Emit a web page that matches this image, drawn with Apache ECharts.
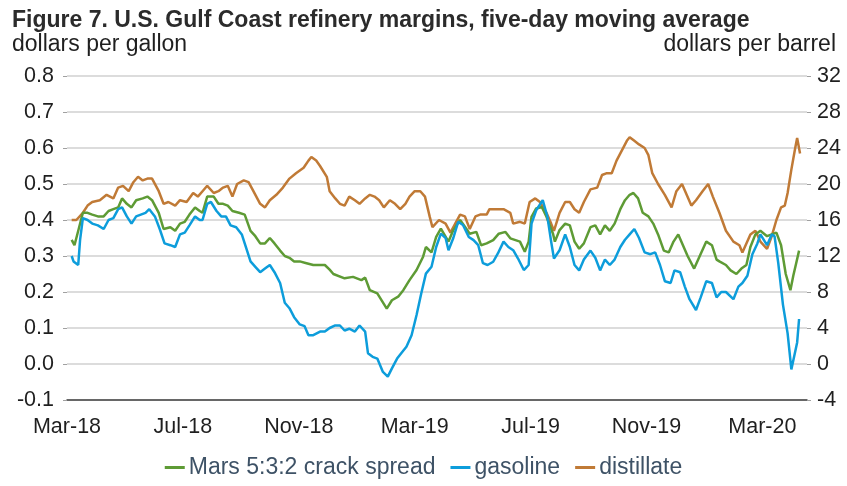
<!DOCTYPE html>
<html><head><meta charset="utf-8">
<script src="https://cdn.jsdelivr.net/npm/echarts@6/dist/echarts.min.js"></script>
<style>html,body{margin:0;padding:0;background:#fff}#c{width:847px;height:486px}</style>
</head><body><div id="c"></div>
<script>
const tickLabels = ['Mar-18','Jul-18','Nov-18','Mar-19','Jul-19','Nov-19','Mar-20'];
const seriesNames = ['Mars 5:3:2 crack spread','gasoline','distillate'];

const marsDates = ['2018-03-06','2018-03-09','2018-03-11','2018-03-14','2018-03-18','2018-03-23','2018-03-28','2018-04-03','2018-04-09','2018-04-14','2018-04-19','2018-04-24','2018-04-28','2018-05-03','2018-05-08','2018-05-13','2018-05-20','2018-05-25','2018-05-30','2018-06-06','2018-06-11','2018-06-18','2018-06-23','2018-06-28','2018-07-03','2018-07-08','2018-07-14','2018-07-19','2018-07-22','2018-07-27','2018-08-03','2018-08-08','2018-08-13','2018-08-18','2018-08-23','2018-08-30','2018-09-05','2018-09-11','2018-09-16','2018-09-21','2018-09-26','2018-10-01','2018-10-06','2018-10-12','2018-10-17','2018-10-22','2018-10-27','2018-11-02','2018-11-09','2018-11-16','2018-11-23','2018-11-28','2018-12-03','2018-12-07','2018-12-19','2018-12-28','2019-01-06','2019-01-10','2019-01-15','2019-01-23','2019-02-02','2019-02-07','2019-02-13','2019-02-18','2019-02-24','2019-03-03','2019-03-10','2019-03-13','2019-03-19','2019-03-24','2019-03-29','2019-04-06','2019-04-11','2019-04-18','2019-04-23','2019-04-28','2019-05-05','2019-05-10','2019-05-16','2019-05-23','2019-05-29','2019-06-05','2019-06-10','2019-06-20','2019-06-25','2019-06-29','2019-07-02','2019-07-07','2019-07-13','2019-07-18','2019-07-25','2019-07-27','2019-08-01','2019-08-07','2019-08-12','2019-08-17','2019-08-22','2019-08-27','2019-09-03','2019-09-08','2019-09-13','2019-09-18','2019-09-23','2019-09-28','2019-10-04','2019-10-09','2019-10-14','2019-10-18','2019-10-23','2019-10-28','2019-11-03','2019-11-08','2019-11-13','2019-11-19','2019-11-24','2019-11-29','2019-12-04','2019-12-09','2019-12-14','2019-12-21','2019-12-27','2020-01-03','2020-01-09','2020-01-14','2020-01-17','2020-01-24','2020-01-29','2020-02-04','2020-02-09','2020-02-14','2020-02-18','2020-02-23','2020-02-28','2020-03-06','2020-03-11','2020-03-16','2020-03-21','2020-03-26','2020-03-31','2020-04-03','2020-04-06','2020-04-09'];
const marsValues = [0.345,0.33,0.325,0.38,0.42,0.42,0.415,0.41,0.41,0.425,0.43,0.435,0.46,0.445,0.435,0.455,0.46,0.465,0.455,0.42,0.375,0.38,0.37,0.39,0.395,0.415,0.435,0.425,0.42,0.465,0.465,0.445,0.445,0.44,0.425,0.42,0.415,0.37,0.355,0.335,0.335,0.35,0.335,0.315,0.30,0.295,0.285,0.285,0.28,0.275,0.275,0.275,0.262,0.25,0.238,0.242,0.233,0.24,0.205,0.196,0.154,0.177,0.187,0.205,0.233,0.261,0.298,0.325,0.31,0.353,0.376,0.34,0.372,0.40,0.381,0.362,0.367,0.33,0.335,0.344,0.362,0.367,0.349,0.34,0.312,0.34,0.409,0.432,0.436,0.409,0.362,0.34,0.372,0.39,0.385,0.34,0.32,0.335,0.38,0.385,0.36,0.385,0.37,0.39,0.43,0.455,0.47,0.475,0.46,0.42,0.41,0.39,0.36,0.315,0.31,0.34,0.36,0.33,0.30,0.265,0.30,0.34,0.33,0.29,0.285,0.275,0.26,0.25,0.265,0.275,0.325,0.36,0.37,0.355,0.36,0.365,0.33,0.25,0.205,0.245,0.28,0.315];

const gasolineDates = ['2018-03-06','2018-03-08','2018-03-13','2018-03-15','2018-03-18','2018-03-23','2018-03-28','2018-04-03','2018-04-09','2018-04-14','2018-04-19','2018-04-24','2018-04-28','2018-05-03','2018-05-08','2018-05-13','2018-05-18','2018-05-23','2018-05-27','2018-06-02','2018-06-07','2018-06-12','2018-06-18','2018-06-23','2018-06-28','2018-07-03','2018-07-08','2018-07-14','2018-07-19','2018-07-22','2018-07-27','2018-07-31','2018-08-06','2018-08-11','2018-08-16','2018-08-21','2018-08-27','2018-09-02','2018-09-05','2018-09-11','2018-09-16','2018-09-21','2018-09-26','2018-10-01','2018-10-06','2018-10-12','2018-10-17','2018-10-22','2018-10-27','2018-11-02','2018-11-07','2018-11-11','2018-11-16','2018-11-23','2018-11-28','2018-12-03','2018-12-09','2018-12-14','2018-12-19','2018-12-24','2018-12-30','2019-01-04','2019-01-10','2019-01-13','2019-01-18','2019-01-23','2019-01-29','2019-02-03','2019-02-07','2019-02-12','2019-02-16','2019-02-21','2019-02-26','2019-03-03','2019-03-08','2019-03-13','2019-03-19','2019-03-24','2019-03-29','2019-04-03','2019-04-06','2019-04-11','2019-04-16','2019-04-21','2019-04-27','2019-05-02','2019-05-07','2019-05-12','2019-05-17','2019-05-23','2019-05-28','2019-06-03','2019-06-08','2019-06-13','2019-06-18','2019-06-24','2019-06-29','2019-07-02','2019-07-07','2019-07-14','2019-07-19','2019-07-23','2019-07-26','2019-08-01','2019-08-07','2019-08-12','2019-08-17','2019-08-22','2019-08-27','2019-09-03','2019-09-08','2019-09-13','2019-09-18','2019-09-23','2019-09-28','2019-10-04','2019-10-09','2019-10-14','2019-10-19','2019-10-24','2019-10-30','2019-11-05','2019-11-10','2019-11-15','2019-11-20','2019-11-26','2019-11-30','2019-12-06','2019-12-11','2019-12-16','2019-12-23','2019-12-28','2020-01-03','2020-01-09','2020-01-14','2020-01-19','2020-01-24','2020-02-01','2020-02-06','2020-02-10','2020-02-15','2020-02-20','2020-02-25','2020-02-28','2020-03-06','2020-03-11','2020-03-14','2020-03-18','2020-03-23','2020-03-28','2020-04-01','2020-04-03','2020-04-07','2020-04-09'];
const gasolineValues = [0.30,0.285,0.275,0.345,0.405,0.40,0.39,0.385,0.375,0.40,0.405,0.43,0.435,0.41,0.39,0.41,0.415,0.42,0.43,0.41,0.375,0.335,0.33,0.325,0.36,0.365,0.385,0.41,0.40,0.40,0.445,0.45,0.425,0.41,0.41,0.385,0.38,0.36,0.335,0.285,0.27,0.255,0.265,0.275,0.255,0.225,0.17,0.155,0.13,0.11,0.105,0.08,0.08,0.09,0.09,0.10,0.107,0.107,0.093,0.098,0.09,0.107,0.09,0.03,0.02,0.015,-0.022,-0.035,-0.012,0.015,0.03,0.048,0.08,0.136,0.196,0.251,0.27,0.325,0.362,0.35,0.316,0.35,0.395,0.386,0.353,0.344,0.33,0.28,0.275,0.284,0.307,0.34,0.325,0.316,0.293,0.261,0.275,0.39,0.427,0.455,0.409,0.34,0.293,0.316,0.36,0.325,0.275,0.26,0.29,0.315,0.295,0.26,0.29,0.275,0.29,0.325,0.345,0.36,0.375,0.35,0.31,0.305,0.31,0.275,0.23,0.225,0.26,0.255,0.215,0.18,0.15,0.185,0.23,0.225,0.185,0.20,0.20,0.18,0.215,0.225,0.245,0.305,0.335,0.36,0.33,0.36,0.355,0.28,0.165,0.085,-0.015,-0.02,0.06,0.125];

const distillateDates = ['2018-03-06','2018-03-11','2018-03-18','2018-03-23','2018-03-28','2018-04-05','2018-04-12','2018-04-19','2018-04-24','2018-04-29','2018-05-05','2018-05-10','2018-05-15','2018-05-20','2018-05-25','2018-05-30','2018-06-06','2018-06-11','2018-06-16','2018-06-23','2018-06-28','2018-07-05','2018-07-12','2018-07-17','2018-07-22','2018-07-27','2018-08-03','2018-08-08','2018-08-13','2018-08-18','2018-08-23','2018-08-28','2018-09-04','2018-09-09','2018-09-14','2018-09-21','2018-09-26','2018-10-01','2018-10-08','2018-10-15','2018-10-22','2018-10-29','2018-11-06','2018-11-11','2018-11-14','2018-11-19','2018-11-23','2018-11-30','2018-12-03','2018-12-09','2018-12-14','2018-12-19','2018-12-24','2018-12-30','2019-01-04','2019-01-10','2019-01-15','2019-01-20','2019-01-25','2019-01-30','2019-02-05','2019-02-10','2019-02-15','2019-02-20','2019-02-24','2019-03-01','2019-03-07','2019-03-12','2019-03-17','2019-03-20','2019-03-27','2019-04-03','2019-04-08','2019-04-13','2019-04-18','2019-04-23','2019-04-28','2019-05-04','2019-05-09','2019-05-16','2019-05-19','2019-05-26','2019-06-03','2019-06-10','2019-06-13','2019-06-20','2019-06-25','2019-06-30','2019-07-06','2019-07-11','2019-07-18','2019-07-23','2019-07-26','2019-08-01','2019-08-07','2019-08-12','2019-08-17','2019-08-22','2019-08-27','2019-09-03','2019-09-10','2019-09-15','2019-09-20','2019-09-25','2019-09-30','2019-10-05','2019-10-11','2019-10-14','2019-10-19','2019-10-24','2019-10-30','2019-11-03','2019-11-07','2019-11-13','2019-11-20','2019-11-27','2019-12-02','2019-12-08','2019-12-13','2019-12-18','2019-12-23','2019-12-30','2020-01-05','2020-01-10','2020-01-17','2020-01-24','2020-02-01','2020-02-07','2020-02-10','2020-02-14','2020-02-18','2020-02-23','2020-02-28','2020-03-06','2020-03-11','2020-03-16','2020-03-21','2020-03-25','2020-03-28','2020-04-01','2020-04-03','2020-04-05','2020-04-07','2020-04-10'];
const distillateValues = [0.40,0.40,0.42,0.44,0.45,0.455,0.47,0.46,0.49,0.495,0.48,0.505,0.52,0.51,0.515,0.515,0.48,0.445,0.45,0.44,0.455,0.45,0.475,0.465,0.48,0.495,0.475,0.48,0.49,0.495,0.465,0.50,0.51,0.505,0.48,0.445,0.435,0.455,0.47,0.49,0.515,0.53,0.545,0.565,0.575,0.565,0.55,0.52,0.48,0.46,0.445,0.44,0.465,0.455,0.445,0.46,0.47,0.465,0.455,0.435,0.455,0.445,0.43,0.445,0.465,0.48,0.48,0.465,0.41,0.38,0.40,0.39,0.365,0.39,0.415,0.41,0.375,0.41,0.415,0.415,0.43,0.43,0.43,0.42,0.39,0.395,0.39,0.45,0.46,0.45,0.42,0.39,0.37,0.42,0.45,0.45,0.43,0.42,0.45,0.485,0.49,0.525,0.53,0.53,0.565,0.59,0.62,0.63,0.62,0.61,0.60,0.58,0.53,0.50,0.47,0.435,0.48,0.50,0.47,0.44,0.455,0.48,0.50,0.465,0.42,0.37,0.34,0.33,0.31,0.335,0.36,0.37,0.34,0.32,0.355,0.40,0.435,0.44,0.475,0.54,0.57,0.60,0.628,0.585];

function monthOffset(s) {
  const p = s.split('-').map(Number);
  const dim = new Date(Date.UTC(p[0], p[1], 0)).getUTCDate();
  return (p[0] - 2018) * 12 + (p[1] - 3) + (p[2] - 1) / dim;
}
function pairs(dates, values) { return dates.map((d, i) => [monthOffset(d), values[i]]); }

const FONT = 'Liberation Sans, Arial, sans-serif';
const colors = ['#5e9b35', '#0d9ddb', '#c07a36'];

const chart = echarts.init(document.getElementById('c'), null, {renderer: 'canvas'});
chart.setOption({
  animation: false,
  backgroundColor: '#fff',
  color: colors,
  grid: {left: 67, right: 40, top: 76, bottom: 86, containLabel: false},
  graphic: [
    {type: 'text', left: 12, top: 9, style: {text: 'Figure 7. U.S. Gulf Coast refinery margins, five-day moving average', font: 'bold 23px ' + FONT, fill: '#2b2b2b'}},
    {type: 'text', left: 12, top: 33, style: {text: 'dollars per gallon', font: '23px ' + FONT, fill: '#1f1f1f'}},
    {type: 'text', right: 11, top: 33, style: {text: 'dollars per barrel', font: '23px ' + FONT, fill: '#1f1f1f'}}
  ],
  legend: {
    bottom: 2, left: 'center',
    itemWidth: 20, itemHeight: 3, itemGap: 15,
    icon: 'rect',
    textStyle: {fontFamily: FONT, fontSize: 23, color: '#3e5266', padding: [0, 0, 0, -1]},
    data: seriesNames
  },
  xAxis: {
    type: 'value', min: 0, max: 25.54, interval: 4,
    axisLine: {show: true, onZero: false, lineStyle: {color: '#404040', width: 1.5}},
    axisTick: {show: false},
    splitLine: {show: false},
    axisLabel: {
      margin: 16, fontFamily: FONT, fontSize: 21.5, color: '#1f1f1f',
      formatter: v => { const k = Math.round(v / 4); return Math.abs(v - k * 4) < 1e-6 && tickLabels[k] ? tickLabels[k] : ''; }
    }
  },
  yAxis: [
    {
      type: 'value', min: -0.1, max: 0.8, interval: 0.1, position: 'left',
      axisLine: {show: false},
      axisTick: {show: true, length: 4, lineStyle: {color: '#a0a0a0', width: 1}},
      splitLine: {show: true, lineStyle: {color: '#d0d0d0', width: 1.5}},
      axisLabel: {margin: 13, fontFamily: FONT, fontSize: 21.5, color: '#1f1f1f', formatter: v => v.toFixed(1)}
    },
    {
      type: 'value', min: -4, max: 32, interval: 4, position: 'right',
      axisLine: {show: false},
      axisTick: {show: true, length: 4, lineStyle: {color: '#a0a0a0', width: 1}},
      splitLine: {show: false},
      axisLabel: {margin: 10, fontFamily: FONT, fontSize: 21.5, color: '#1f1f1f', formatter: v => String(Math.round(v))}
    }
  ],
  series: [
    {name: seriesNames[0], type: 'line', showSymbol: false, data: pairs(marsDates, marsValues), lineStyle: {width: 2.5}, z: 3},
    {name: seriesNames[1], type: 'line', showSymbol: false, data: pairs(gasolineDates, gasolineValues), lineStyle: {width: 2.5}, z: 4},
    {name: seriesNames[2], type: 'line', showSymbol: false, data: pairs(distillateDates, distillateValues), lineStyle: {width: 2.5}, z: 2}
  ]
});
</script></body></html>
